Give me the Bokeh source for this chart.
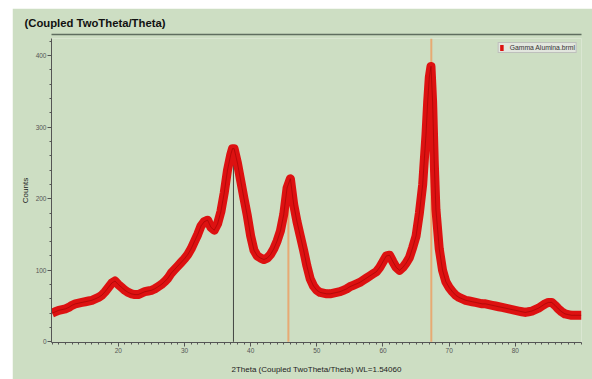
from bokeh.plotting import figure
from bokeh.models import (Range1d, FixedTicker, Legend, LegendItem,
                          ColumnDataSource, LinearAxis)
from bokeh.embed import file_html
from bokeh.resources import INLINE

# ---------------- data ----------------
two_theta = [10.0, 10.5, 11.0, 11.5, 12.0, 12.5, 13.0, 13.5, 14.0, 14.5,
             15.0, 15.5, 16.0, 16.5, 17.0, 17.5, 18.0, 18.5, 19.0, 19.5,
             20.0, 20.5, 21.0, 21.5, 22.0, 22.5, 23.0, 23.5, 24.0, 24.5,
             25.0, 25.5, 26.0, 26.5, 27.0, 27.5, 28.0, 28.5, 29.0, 29.5,
             30.0, 30.5, 31.0, 31.5, 32.0, 32.5, 33.0, 33.5, 34.0, 34.5,
             35.0, 35.5, 36.0, 36.5, 37.0, 37.25, 37.5, 38.0, 38.5, 39.0,
             39.5, 40.0, 40.5, 41.0, 41.5, 42.0, 42.5, 43.0, 43.5, 44.0,
             44.5, 45.0, 45.5, 46.0, 46.5, 47.0, 47.5, 48.0, 48.5, 49.0,
             49.5, 50.0, 50.5, 51.0, 51.5, 52.0, 52.5, 53.0, 53.5, 54.0,
             54.5, 55.0, 55.5, 56.0, 56.5, 57.0, 57.5, 58.0, 58.5, 59.0,
             59.5, 60.0, 60.5, 61.0, 61.5, 62.0, 62.5, 63.0, 63.5, 64.0,
             64.5, 65.0, 65.5, 66.0, 66.5, 66.75, 67.0, 67.25, 67.5, 67.75,
             68.0, 68.5, 69.0, 69.5, 70.0, 70.5, 71.0, 71.5, 72.0, 72.5,
             73.0, 73.5, 74.0, 74.5, 75.0, 75.5, 76.0, 76.5, 77.0, 77.5,
             78.0, 78.5, 79.0, 79.5, 80.0, 80.5, 81.0, 81.5, 82.0, 82.5,
             83.0, 83.5, 84.0, 84.5, 85.0, 85.5, 86.0, 86.5, 87.0, 87.5,
             88.0, 88.5, 89.0, 89.5, 90.0]
counts = [40, 42, 44, 45, 46, 48, 51, 53, 54, 55,
          56, 57, 58, 60, 62, 65, 70, 76, 82, 85,
          80, 76, 72, 69, 67, 66, 66, 68, 70, 71,
          72, 74, 77, 80, 84, 89, 96, 101, 106, 111,
          116, 122, 130, 140, 150, 162, 168, 170, 160, 156,
          165, 182, 208, 240, 262, 270, 270, 250, 225, 200,
          176, 148, 128, 120, 117, 115, 117, 122, 130, 141,
          155, 178, 215, 228, 192, 168, 148, 128, 106, 88,
          78, 72, 69, 68, 67, 67, 68, 69, 70, 72,
          74, 77, 79, 81, 83, 86, 89, 92, 95, 98,
          104, 112, 120, 121, 112, 104, 100, 104, 110, 118,
          132, 148, 180, 220, 290, 335, 370, 385, 335, 250,
          185, 130, 100, 84, 76, 70, 65, 62, 60, 58,
          57, 56, 55, 54, 53, 53, 52, 51, 50, 49,
          48, 47, 46, 45, 44, 43, 42, 41, 42, 43,
          45, 47, 50, 53, 55, 55, 51, 46, 42, 39,
          38, 37, 37, 37, 37]

stick_pos = [37.4, 45.7, 67.3]
stick_height = [270, 232, 424]
stick_color = ["#333333", "#eaa46a", "#eaa46a"]
stick_width = [1, 2, 2]

x_ticks = [20, 30, 40, 50, 60, 70, 80]
y_ticks = [0, 100, 200, 300, 400]

title_text = "(Coupled TwoTheta/Theta)"
x_label = "2Theta (Coupled TwoTheta/Theta) WL=1.54060"
y_label = "Counts"
series_name = "Gamma Alumina.brml"

BG = "#cddec3"
FONT = "Liberation Sans"

# ---------------- figure ----------------
p = figure(frame_width=530, frame_height=304,
           x_range=Range1d(9.9, 90), y_range=Range1d(-1, 424),
           output_backend="svg", toolbar_location=None,
           min_border_left=39, min_border_right=11, min_border_top=30, min_border_bottom=37,
           margin=(8, 0, 0, 12))
p.grid.visible = False
p.outline_line_color = None
p.background_fill_color = BG
p.border_fill_color = BG

# title
p.title.text = title_text
p.title.align = "left"
p.title.offset = -27
p.title.standoff = 12
p.title.text_font = FONT
p.title.text_font_style = "bold"
p.title.text_font_size = "11.3px"
p.title.text_color = "#111111"

bottom_axis = p.below[0]
left_axis = p.left[0]

# rule under the title: an invisible spacer axis (4 px), then a bare axis line above it
spacer = LinearAxis(ticker=FixedTicker(ticks=[50], minor_ticks=[]),
                    axis_line_color=None,
                    major_tick_out=4, major_tick_in=0, minor_tick_out=0, minor_tick_in=0,
                    major_tick_line_color=BG, major_tick_line_alpha=0.0,
                    minor_tick_line_color=None,
                    major_label_standoff=0, major_label_text_font_size="0px",
                    major_label_text_color=None, major_label_text_alpha=0.0)
rule = LinearAxis(ticker=FixedTicker(ticks=[], minor_ticks=[]),
                  axis_line_color="#5f6e5f", axis_line_width=1.5,
                  major_tick_out=0, major_tick_in=0, minor_tick_out=0, minor_tick_in=0,
                  major_tick_line_color=None, minor_tick_line_color=None,
                  major_label_standoff=0, major_label_text_font_size="0px",
                  major_label_text_color=None)
p.add_layout(spacer, "above")
p.add_layout(rule, "above")

# reference sticks
sticks = ColumnDataSource(dict(x=stick_pos, top=stick_height, color=stick_color, w=stick_width))
p.segment(x0="x", y0=0, x1="x", y1="top", source=sticks, line_color="color", line_width="w",
          line_alpha=0.9)

# measured pattern
src = ColumnDataSource(dict(x=two_theta, y=counts))
r = p.line("x", "y", source=src, line_color="#dd1111", line_width=9, line_join="round")
p.line("x", "y", source=src, line_color="#8e0000", line_width=1, line_alpha=0.5)

bottom_axis.ticker = FixedTicker(ticks=x_ticks, minor_ticks=list(range(10, 91)))
left_axis.ticker = FixedTicker(ticks=y_ticks, minor_ticks=list(range(0, 425, 20)))

for ax in (bottom_axis, left_axis):
    ax.axis_line_color = "#555555"
    ax.major_tick_line_color = "#555555"
    ax.minor_tick_line_color = "#555555"
    ax.major_tick_in = 0
    ax.major_tick_out = 4
    ax.minor_tick_in = 0
    ax.minor_tick_out = 2
    ax.major_label_text_font = FONT
    ax.major_label_text_font_size = "6.5px"
    ax.major_label_text_color = "#555555"
    ax.major_label_standoff = 1
    ax.axis_label_text_font = FONT
    ax.axis_label_text_font_style = "normal"
    ax.axis_label_text_font_size = "8px"
    ax.axis_label_text_color = "#222222"

bottom_axis.axis_label = x_label
bottom_axis.axis_label_standoff = 9
left_axis.axis_label = y_label
left_axis.axis_label_standoff = 3

legend = Legend(items=[LegendItem(label=series_name, renderers=[r])],
                location="top_right", margin=4, padding=1, spacing=0,
                glyph_width=4, glyph_height=6, label_height=6, label_standoff=6,
                label_text_font=FONT, label_text_font_size="6.8px", label_text_color="#333333",
                background_fill_color="#e2e6de", background_fill_alpha=1.0,
                border_line_color="#9a9a9a", border_line_width=1)
p.add_layout(legend)

open("out.html", "w").write(file_html(p, INLINE))
